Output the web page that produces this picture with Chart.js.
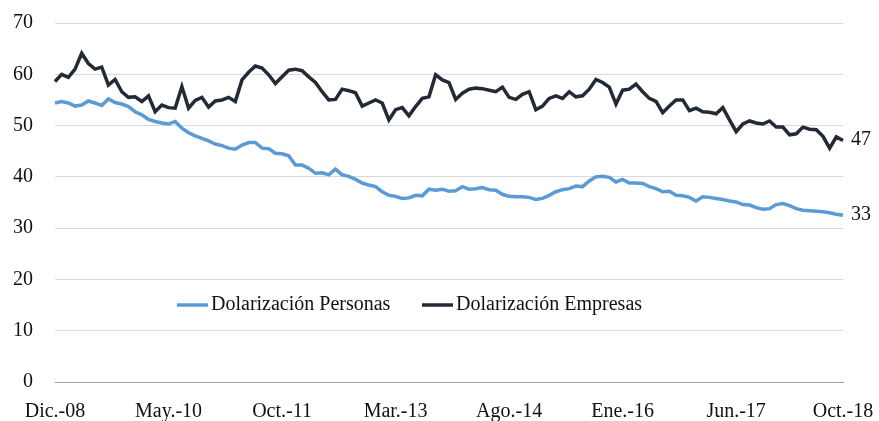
<!DOCTYPE html>
<html>
<head>
<meta charset="utf-8">
<script src="https://cdn.jsdelivr.net/npm/chart.js@4/dist/chart.umd.min.js"></script>
<style>
  body { margin: 0; background: #fff; }
  #wrap { width: 879px; height: 421px; }
</style>
</head>
<body>
<div id="wrap"><canvas id="myChart"></canvas></div>
<script>
// months dic-08 .. oct-18
const monthNames = ['Ene', 'Feb', 'Mar', 'Abr', 'May', 'Jun', 'Jul', 'Ago', 'Sep', 'Oct', 'Nov', 'Dic'];
const categories = [];
for (let k = 0; k < 119; k++) {
  const m = (11 + k) % 12;
  const y = 8 + Math.floor((11 + k) / 12);
  categories.push(monthNames[m] + '.-' + String(y).padStart(2, '0'));
}

const personas = [
  54.4, 54.7, 54.4, 53.8, 54.0, 54.8, 54.4, 53.9, 55.2, 54.5,
  54.2, 53.7, 52.7, 52.1, 51.2, 50.8, 50.5, 50.3, 50.8, 49.5,
  48.6, 48.0, 47.5, 47.0, 46.4, 46.1, 45.6, 45.4, 46.2, 46.7,
  46.7, 45.6, 45.5, 44.6, 44.5, 44.1, 42.3, 42.3, 41.7, 40.7,
  40.8, 40.4, 41.5, 40.4, 40.1, 39.5, 38.8, 38.4, 38.1, 37.1,
  36.4, 36.2, 35.8, 35.9, 36.4, 36.3, 37.6, 37.4, 37.6, 37.2,
  37.3, 38.1, 37.6, 37.7, 37.9, 37.5, 37.4, 36.6, 36.2, 36.1,
  36.1, 36.0, 35.6, 35.8, 36.4, 37.1, 37.5, 37.7, 38.2, 38.1,
  39.2, 40.0, 40.1, 39.9, 39.0, 39.5, 38.8, 38.8, 38.7, 38.1,
  37.7, 37.1, 37.2, 36.4, 36.3, 36.0, 35.3, 36.1, 36.0, 35.8,
  35.6, 35.3, 35.1, 34.6, 34.5, 34.0, 33.7, 33.8, 34.6, 34.8,
  34.4, 33.8, 33.5, 33.4, 33.3, 33.2, 33.0, 32.7, 32.5
];

const empresas = [
  58.6, 60.0, 59.4, 61.0, 64.1, 62.1, 61.0, 61.4, 57.9, 59.0,
  56.6, 55.5, 55.6, 54.7, 55.8, 52.7, 54.0, 53.5, 53.4, 57.6,
  53.4, 54.9, 55.5, 53.6, 54.8, 55.0, 55.5, 54.7, 58.9, 60.4,
  61.6, 61.2, 59.9, 58.2, 59.5, 60.8, 61.0, 60.7, 59.5, 58.4,
  56.6, 55.0, 55.1, 57.1, 56.8, 56.4, 53.8, 54.4, 55.0, 54.4,
  51.1, 53.1, 53.5, 51.9, 53.7, 55.3, 55.6, 59.9, 58.9, 58.4,
  55.1, 56.3, 57.1, 57.3, 57.2, 56.9, 56.6, 57.5, 55.5, 55.1,
  56.1, 56.6, 53.1, 53.8, 55.3, 55.8, 55.3, 56.6, 55.6, 55.8,
  57.1, 59.0, 58.4, 57.5, 54.2, 56.9, 57.1, 58.1, 56.6, 55.3,
  54.7, 52.5, 53.8, 55.0, 55.0, 52.9, 53.4, 52.7, 52.6, 52.3,
  53.5, 51.1, 48.8, 50.3, 50.9, 50.5, 50.3, 50.9, 49.7, 49.7,
  48.2, 48.4, 49.7, 49.3, 49.2, 47.9, 45.6, 47.8, 47.1
];

const seriesNames = ['Dolarización Personas', 'Dolarización Empresas'];
const seriesColors = ['#5B9BD5', '#222A35'];
const yTicks = [0, 10, 20, 30, 40, 50, 60, 70];

const FONT = 'Liberation Serif';

// legend drawn inside the plot area
const innerLegend = {
  id: 'innerLegend',
  afterDraw(chart) {
    const ctx = chart.ctx;
    const items = [{ x: 177 }, { x: 422 }];
    ctx.save();
    ctx.font = '20px "' + FONT + '"';
    ctx.textBaseline = 'middle';
    ctx.fillStyle = '#111';
    chart.data.datasets.forEach(function(ds, i) {
      const x = items[i].x;
      const y = 305;
      ctx.strokeStyle = ds.borderColor;
      ctx.lineWidth = 3.5;
      ctx.beginPath();
      ctx.moveTo(x, y);
      ctx.lineTo(x + 31, y);
      ctx.stroke();
      ctx.fillText(ds.label, x + 34, y);
    });
    ctx.restore();
  }
};

// value label at the end of each line
const endLabels = {
  id: 'endLabels',
  afterDatasetsDraw(chart) {
    const ctx = chart.ctx;
    ctx.save();
    ctx.font = '20px "' + FONT + '"';
    ctx.textBaseline = 'middle';
    ctx.fillStyle = '#111';
    chart.data.datasets.forEach(function(ds, i) {
      const pts = chart.getDatasetMeta(i).data;
      const last = pts[pts.length - 1];
      const v = ds.data[ds.data.length - 1];
      ctx.fillText(String(Math.round(v)), last.x + 8, last.y - 1);
    });
    ctx.restore();
  }
};

const ctx = document.getElementById('myChart').getContext('2d');

// eslint-disable-next-line no-unused-vars
const chart = new Chart(ctx, {
  type: 'line',
  data: {
    labels: categories,
    datasets: [{
      label: seriesNames[0],
      data: personas,
      borderColor: seriesColors[0],
      backgroundColor: seriesColors[0],
      borderWidth: 3.5,
      pointRadius: 0,
      tension: 0,
    },
    {
      label: seriesNames[1],
      data: empresas,
      borderColor: seriesColors[1],
      backgroundColor: seriesColors[1],
      borderWidth: 3.5,
      pointRadius: 0,
      tension: 0,
    }]
  },
  options: {
    responsive: true,
    maintainAspectRatio: false,
    animation: false,
    layout: { autoPadding: false, padding: { top: 23, right: 36, left: 0, bottom: 0 } },
    plugins: {
      legend: { display: false },
      tooltip: { enabled: false },
    },
    scales: {
      x: {
        offset: false,
        grid: { display: false },
        border: { display: true, color: '#A0A0A0', width: 1 },
        afterFit: function(s) { s.height = 39; s.paddingLeft = 0; s.paddingRight = 0; },
        ticks: {
          autoSkip: false,
          maxRotation: 0,
          minRotation: 0,
          padding: 10,
          color: '#111',
          font: { family: FONT, size: 20 },
          callback: function(val, i) {
            if (i % 17 === 0 || i === categories.length - 1) return categories[i];
            return null;
          }
        }
      },
      y: {
        min: 0,
        max: 70,
        afterFit: function(s) { s.width = 55; s.paddingTop = 0; s.paddingBottom = 0; },
        afterBuildTicks: function(s) { s.ticks = yTicks.map(function(v) { return { value: v }; }); },
        border: { display: false },
        grid: {
          drawTicks: false,
          color: function(c) { return c.tick.value === 0 ? '#A0A0A0' : '#D9D9D9'; },
          lineWidth: 1,
        },
        ticks: {
          padding: 22,
          color: '#111',
          font: { family: FONT, size: 20 },
        }
      }
    }
  },
  plugins: [innerLegend, endLabels]
});
</script>
</body>
</html>
